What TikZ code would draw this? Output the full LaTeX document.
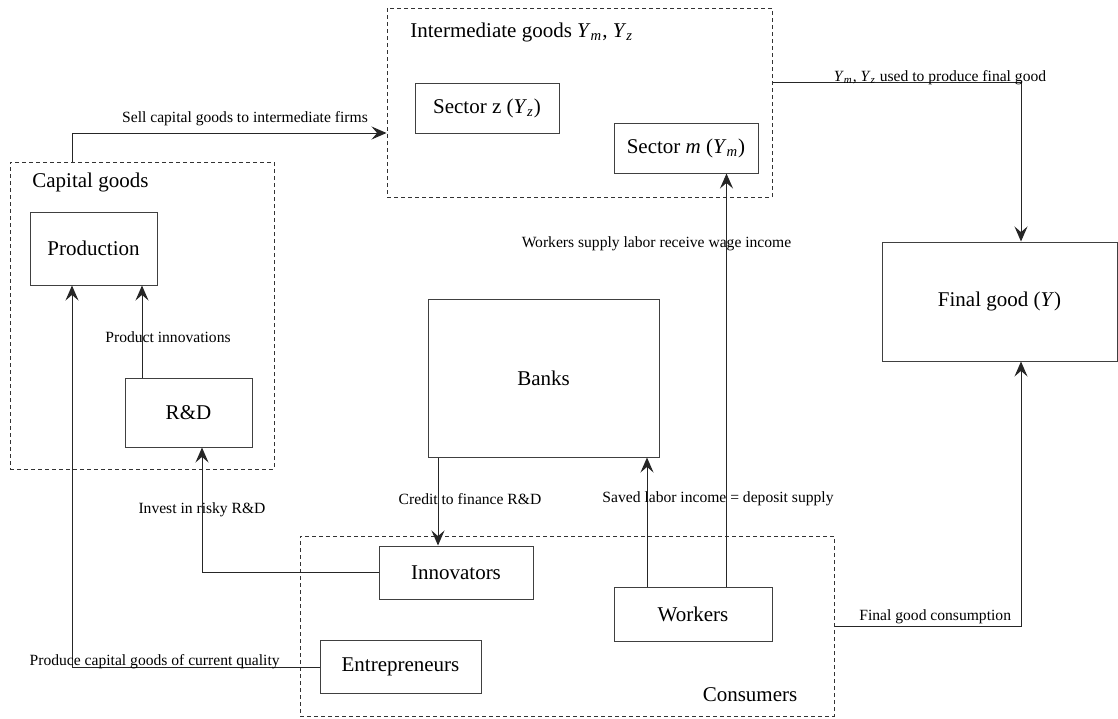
\documentclass[tikz,border=0pt]{standalone}
\usepackage{fontspec}
\setmainfont{Liberation Serif}
\usepackage{amsmath}
\usepackage{tikz}
\usetikzlibrary{arrows.meta}
\newcommand{\Yvar}[1]{\textit{Y}\textsubscript{\textit{#1}}}
\tikzset{
  box/.style={draw=black!75, line width=0.5pt, inner sep=0pt, font=\fontsize{10.5}{12}\selectfont},
  group/.style={draw=black!80, line width=0.5pt, dash pattern=on 2pt off 1.5pt, inner sep=0pt},
  heading/.style={inner sep=0pt, font=\fontsize{10.5}{12}\selectfont},
  lbl/.style={inner sep=0pt, font=\fontsize{7.8}{9}\selectfont},
  flow/.style={draw=black!85, line width=0.5pt, -{Stealth[length=7.5pt, width=6.5pt, inset=2.8pt]}}
}

\begin{document}
\begin{tikzpicture}[x=0.5pt, y=-0.5pt]
              \useasboundingbox (0,0) rectangle (1118,718);

              \node (cap) [group, minimum width=132pt, minimum height=153.5pt] at (142,315.5) {};
              \node (inter) [group, minimum width=192.5pt, minimum height=94.5pt] at (579.5,102.5) {};
              \node (cons) [group, minimum width=267pt, minimum height=90pt] at (567,626) {};

              \node (captitle) [heading, anchor=west] at (32,182) {Capital goods};
              \node (intertitle) [heading, anchor=west] at (410,32) {Intermediate goods \Yvar{m}, \Yvar{z}};
              \node (constitle) [heading] at (750,695) {Consumers};

              \node (prod) [box, minimum width=63.5pt, minimum height=36.5pt] at (93.5,248.5) {Production};
              \node (rd) [box, minimum width=63.5pt, minimum height=34.5pt] at (188.5,412.5) {R\&D};
              \node (secz) [box, minimum width=72pt, minimum height=25pt] at (487,108) {Sector z (\Yvar{z})};
              \node (secm) [box, minimum width=72pt, minimum height=25pt] at (686,148) {Sector \textit{m} (\Yvar{m})};
              \node (final) [box, minimum width=117.5pt, minimum height=59.5pt] at (999.5,301.5) {Final good (\textit{Y})};
              \node (banks) [box, minimum width=115.5pt, minimum height=79pt] at (543.5,378) {Banks};
              \node (innov) [box, minimum width=77pt, minimum height=26.5pt] at (456,572.5) {Innovators};
              \node (entr) [box, minimum width=80.5pt, minimum height=26.5pt] at (400.5,667) {Entrepreneurs};
              \node (work) [box, minimum width=79pt, minimum height=27pt] at (693,614) {Workers};

              \coordinate (sellbend) at (72,133);
              \coordinate (pistart) at ([xshift=-23.25pt]rd.north);
              \coordinate (credend) at ([xshift=-9pt]innov.north);
              \coordinate (savestart) at ([xshift=-23pt]work.north);
              \coordinate (wagestart) at ([xshift=16.75pt]work.north);

              \draw [flow] (cap.north -| sellbend) -- (sellbend) -- node [lbl, pos=0.55, anchor=base, yshift=5.5pt] {Sell capital goods to intermediate firms} (sellbend -| inter.west);
              \draw [flow] (entr.west) -| node [lbl, pos=0.333, anchor=base, yshift=1pt] {Produce capital goods of current quality} (prod.south -| sellbend);
              \draw [flow] (pistart) -- node [lbl, pos=0.44, xshift=13pt] {Product innovations} (pistart |- prod.south);
              \draw [flow] (innov.west) -| node [lbl, pos=0.75] {Invest in risky R\&D} ([xshift=6.75pt]rd.south);
              \draw [flow] (banks.south -| credend) -- node [lbl, pos=0.47, xshift=16pt] {Credit to finance R\&D} (credend);
              \draw [flow] (savestart) -- node [lbl, pos=0.68, xshift=35.5pt] {Saved labor income = deposit supply} (savestart |- banks.south);
              \draw [flow] (wagestart) -- node [lbl, pos=0.83, xshift=-35pt] {Workers supply labor receive wage income} (wagestart |- secm.south);
              \draw [flow] (inter.east |- secz.north) -| node [lbl, pos=0.337, anchor=base, yshift=0.5pt] {\Yvar{m}, \Yvar{z} used to produce final good} ([xshift=10.75pt]final.north);
              \draw [flow] (cons.east) -| node [lbl, pos=0.27, anchor=base, yshift=3pt] {Final good consumption} ([xshift=10.75pt]final.south);
            \end{tikzpicture}
\end{document}
